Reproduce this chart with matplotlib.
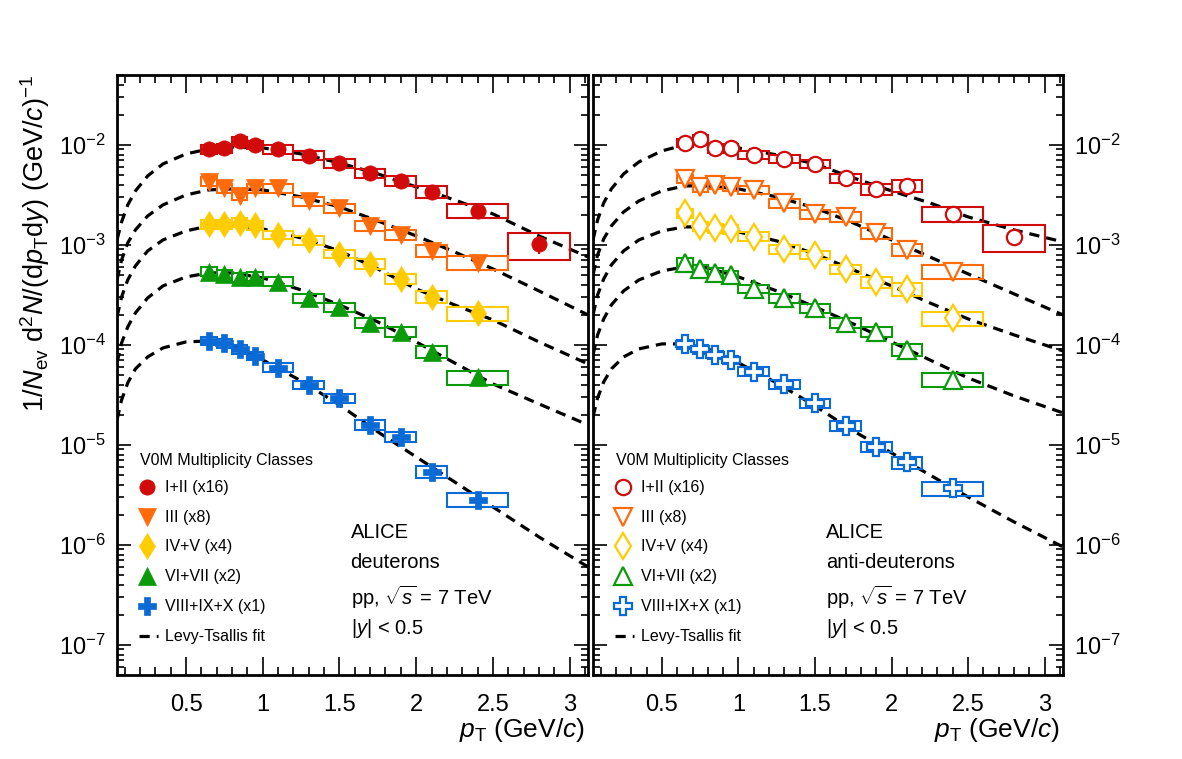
import numpy as np
import matplotlib
matplotlib.use("Agg")
import matplotlib.pyplot as plt
from matplotlib.patches import Rectangle
from matplotlib.ticker import MultipleLocator, LogLocator, NullFormatter

plt.rcParams['font.family'] = ['Liberation Sans', 'DejaVu Sans']
plt.rcParams['mathtext.fontset'] = 'custom'
plt.rcParams['mathtext.rm'] = 'Liberation Sans'
plt.rcParams['mathtext.it'] = 'Liberation Sans:italic'
plt.rcParams['mathtext.bf'] = 'Liberation Sans:bold'

# pT bins (GeV/c)
bin_lo = [0.6, 0.7, 0.8, 0.9, 1.0, 1.2, 1.4, 1.6, 1.8, 2.0, 2.2, 2.6]
bin_hi = [0.7, 0.8, 0.9, 1.0, 1.2, 1.4, 1.6, 1.8, 2.0, 2.2, 2.6, 3.0]
pt = [0.65, 0.75, 0.85, 0.95, 1.1, 1.3, 1.5, 1.7, 1.9, 2.1, 2.4, 2.8]

classes = ['I+II (x16)', 'III (x8)', 'IV+V (x4)', 'VI+VII (x2)', 'VIII+IX+X (x1)']
colors = ['#d10a0a', '#ff6a0a', '#ffcc00', '#0a9a0a', '#0a6ad6']
markers = ['o', 'v', 'd', '^', 'P']
msizes = [11, 13, 13, 13, 13]

# deuterons (last bin only for I+II)
d_12 = [9.06e-3, 9.27e-3, 1.10e-2, 1.0e-2, 9.06e-3, 7.82e-3, 6.56e-3, 5.21e-3, 4.37e-3, 3.41e-3, 2.20e-3, 1.02e-3]
d_3 = [4.30e-3, 3.69e-3, 3.09e-3, 3.69e-3, 3.69e-3, 2.75e-3, 2.33e-3, 1.55e-3, 1.26e-3, 8.77e-4, 6.65e-4]
d_45 = [1.61e-3, 1.61e-3, 1.67e-3, 1.58e-3, 1.26e-3, 1.12e-3, 8.13e-4, 6.46e-4, 4.57e-4, 3.04e-4, 2.07e-4]
d_67 = [5.41e-4, 5.13e-4, 4.75e-4, 4.82e-4, 4.30e-4, 2.93e-4, 2.38e-4, 1.67e-4, 1.36e-4, 8.57e-5, 4.75e-5]
d_8910 = [1.10e-4, 1.04e-4, 9.05e-5, 7.76e-5, 5.93e-5, 3.98e-5, 2.93e-5, 1.58e-5, 1.21e-5, 5.41e-6, 2.82e-6]

# anti-deuterons
ad_12 = [1.05e-2, 1.14e-2, 9.27e-3, 9.27e-3, 7.94e-3, 7.24e-3, 6.46e-3, 4.65e-3, 3.61e-3, 3.92e-3, 2.04e-3, 1.21e-3]
ad_3 = [4.57e-3, 3.78e-3, 3.98e-3, 3.83e-3, 3.55e-3, 2.61e-3, 2.03e-3, 1.92e-3, 1.31e-3, 8.91e-4, 5.41e-4]
ad_45 = [2.07e-3, 1.53e-3, 1.47e-3, 1.44e-3, 1.21e-3, 9.05e-4, 7.94e-4, 5.71e-4, 4.23e-4, 3.61e-4, 1.85e-4]
ad_67 = [6.65e-4, 5.71e-4, 5.28e-4, 5.01e-4, 3.63e-4, 2.93e-4, 2.33e-4, 1.67e-4, 1.36e-4, 8.91e-5, 4.47e-5]
ad_8910 = [1.02e-4, 9.05e-5, 7.94e-5, 7.08e-5, 5.41e-5, 4.05e-5, 2.61e-5, 1.55e-5, 9.62e-6, 6.71e-6, 3.69e-6]

# relative uncertainties per bin
sys_rel = [0.10, 0.10, 0.10, 0.10, 0.10, 0.10, 0.10, 0.11, 0.12, 0.14, 0.16, 0.30]
stat_rel = [0.03, 0.03, 0.03, 0.03, 0.04, 0.04, 0.05, 0.06, 0.07, 0.09, 0.14, 0.20]

# Levy-Tsallis fits, log10 values
fit_pt = [0.05, 0.08, 0.12, 0.17, 0.25, 0.35, 0.5, 0.65, 0.8, 1.0, 1.25, 1.5, 1.75, 2.0, 2.25, 2.5, 2.8, 3.12]
fit_d = [
    [-2.95, -2.77, -2.6, -2.46, -2.31, -2.19, -2.09, -2.04, -2.02, -2.03, -2.09, -2.18, -2.29, -2.42, -2.55, -2.69, -2.91, -3.12],
    [-3.35, -3.15, -2.98, -2.85, -2.71, -2.6, -2.5, -2.45, -2.44, -2.45, -2.52, -2.62, -2.76, -2.91, -3.07, -3.24, -3.46, -3.70],
    [-3.72, -3.52, -3.35, -3.21, -3.06, -2.95, -2.86, -2.81, -2.80, -2.84, -2.93, -3.06, -3.24, -3.44, -3.6, -3.75, -3.97, -4.19],
    [-4.18, -3.98, -3.82, -3.68, -3.53, -3.41, -3.32, -3.28, -3.28, -3.33, -3.45, -3.6, -3.77, -3.97, -4.18, -4.39, -4.59, -4.80],
    [-4.75, -4.55, -4.38, -4.24, -4.12, -4.03, -3.97, -3.96, -4.0, -4.15, -4.36, -4.6, -4.87, -5.12, -5.37, -5.62, -5.92, -6.22],
]
fit_ad = [
    [-2.95, -2.75, -2.58, -2.44, -2.29, -2.17, -2.06, -2.0, -1.99, -2.03, -2.1, -2.19, -2.33, -2.46, -2.58, -2.72, -2.85, -2.97],
    [-3.3, -3.1, -2.94, -2.81, -2.67, -2.56, -2.46, -2.41, -2.41, -2.44, -2.52, -2.63, -2.78, -2.95, -3.12, -3.29, -3.49, -3.70],
    [-3.7, -3.5, -3.34, -3.2, -3.06, -2.95, -2.86, -2.82, -2.82, -2.87, -2.96, -3.09, -3.25, -3.41, -3.58, -3.74, -3.90, -4.06],
    [-4.1, -3.9, -3.74, -3.6, -3.46, -3.35, -3.26, -3.22, -3.23, -3.32, -3.46, -3.62, -3.79, -3.97, -4.15, -4.33, -4.51, -4.68],
    [-4.72, -4.53, -4.37, -4.24, -4.12, -4.04, -3.99, -3.99, -4.04, -4.18, -4.38, -4.61, -4.86, -5.08, -5.3, -5.52, -5.77, -6.02],
]

xtick_vals = [0.5, 1, 1.5, 2, 2.5, 3]
xtick_labels = ['0.5', '1', '1.5', '2', '2.5', '3']
ytick_vals = [1e-7, 1e-6, 1e-5, 1e-4, 1e-3, 1e-2]

fig = plt.figure(figsize=(11.82, 7.59), dpi=100)
axL = fig.add_axes([117/1182, 1-675/759, 471/1182, 600/759])
axR = fig.add_axes([593/1182, 1-675/759, 470/1182, 600/759])


def draw_panel(ax, series, fits, filled, label, right):
    for fl in fits:
        ax.plot(fit_pt, 10**np.array(fl), color='black', lw=2.3, ls=(0, (3.2, 2.2)), zorder=2)
    for k, vals in enumerate(series):
        c = colors[k]
        for i, v in enumerate(vals):
            s = sys_rel[i]
            ax.add_patch(Rectangle((bin_lo[i], v*(1-s)), bin_hi[i]-bin_lo[i], 2*s*v,
                                   fill=False, ec=c, lw=1.5, zorder=3))
        n = len(vals)
        y = np.array(vals)
        ax.errorbar(pt[:n], y, yerr=y*np.array(stat_rel[:n]), fmt='none', ecolor=c, elinewidth=1.5, zorder=4)
        ax.plot(pt[:n], y, ls='none', marker=markers[k], ms=msizes[k], color=c,
                mfc=c if filled else 'white', mec=c, mew=1.6 if not filled else 0.5, zorder=5)

    ax.set_yscale('log')
    ax.set_xlim(0.05, 3.12)
    ax.set_ylim(5e-8, 5e-2)
    ax.set_xticks(xtick_vals)
    ax.set_xticklabels(xtick_labels)
    ax.xaxis.set_minor_locator(MultipleLocator(0.1))
    ax.set_yticks(ytick_vals)
    ax.yaxis.set_minor_locator(LogLocator(base=10, subs=np.arange(2, 10), numticks=20))
    ax.yaxis.set_minor_formatter(NullFormatter())
    ax.tick_params(axis='both', which='both', direction='in', top=True, right=True, left=True,
                   width=1.2, labelsize=17)
    ax.tick_params(axis='x', which='major', length=13, pad=14)
    ax.tick_params(axis='x', which='minor', length=6)
    ax.tick_params(axis='y', which='major', length=10, pad=8)
    ax.tick_params(axis='y', which='minor', length=5)
    if right:
        ax.tick_params(axis='y', labelleft=False, labelright=True)
    for sp in ax.spines.values():
        sp.set_linewidth(2)

    ax.text(0.994, -0.092, r'$p_{\rm T}$ (GeV/$c$)', transform=ax.transAxes, ha='right', va='center', fontsize=19)

    # legend
    ax.text(0.049, 0.358, 'V0M Multiplicity Classes', transform=ax.transAxes, fontsize=11.5, va='center')
    rows = [0.313, 0.263, 0.215, 0.165, 0.115, 0.065]
    for k in range(5):
        c = colors[k]
        ax.plot([0.064], [rows[k]], transform=ax.transAxes, ls='none', marker=markers[k], ms=msizes[k],
                color=c, mfc=c if filled else 'white', mec=c, mew=1.6 if not filled else 0.5, clip_on=False)
        ax.text(0.102, rows[k], classes[k], transform=ax.transAxes, fontsize=11.5, va='center')
    ax.plot([0.047, 0.088], [rows[5], rows[5]], transform=ax.transAxes, color='black', lw=2.3,
            ls=(0, (3.2, 2.2)))
    ax.text(0.102, rows[5], 'Levy-Tsallis fit', transform=ax.transAxes, fontsize=11.5, va='center')

    # info text
    tx = 0.496
    ax.text(tx, 0.238, 'ALICE', transform=ax.transAxes, fontsize=14.5, va='center')
    ax.text(tx, 0.188, label, transform=ax.transAxes, fontsize=14.5, va='center')
    ax.text(tx, 0.13, r'pp, $\sqrt{s}$ = 7 TeV', transform=ax.transAxes, fontsize=14.5, va='center')
    ax.text(tx, 0.078, r'|$y$| < 0.5', transform=ax.transAxes, fontsize=14.5, va='center')


draw_panel(axL, [d_12, d_3, d_45, d_67, d_8910], fit_d, True, 'deuterons', False)
draw_panel(axR, [ad_12, ad_3, ad_45, ad_67, ad_8910], fit_ad, False, 'anti-deuterons', True)

fig.text(0.030, 0.902,
         r'$1/N_{\rm ev}\ {\rm d}^2N/({\rm d}p_{\rm T}{\rm d}y)\ ({\rm GeV}/c)^{-1}$',
         rotation=90, ha='center', va='top', fontsize=19.5)

fig.savefig('out.png', dpi=100)
